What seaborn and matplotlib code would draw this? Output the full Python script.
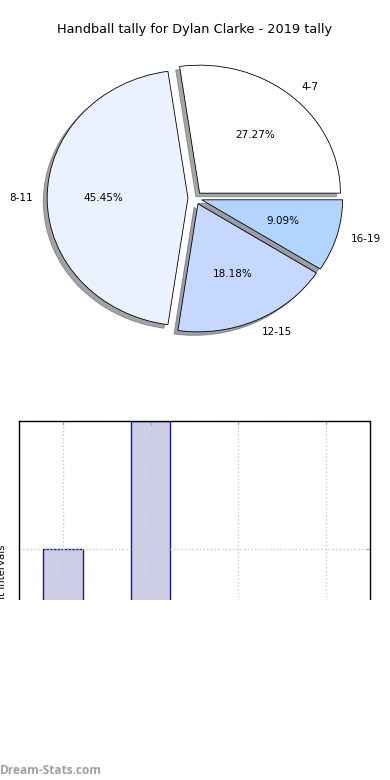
import numpy as np
import matplotlib
matplotlib.use("Agg")
import matplotlib.pyplot as plt
import pandas as pd
import seaborn as sns
from matplotlib.patches import Rectangle

title = "Handball tally for Dylan Clarke - 2019 tally"
pie_labels = ["4-7", "8-11", "12-15", "16-19"]
pie_counts = [3, 5, 2, 1]
pie_colors = ["#ffffff", "#eaf2ff", "#c6d8ff", "#b3d4ff"]

bar_cats = ["4-7", "8-11", "12-15", "16-19"]
bar_counts = [1, 2, 0, 0]
ylabel = "Matches in point intervals"

sns.set_style("white")
plt.rcParams['font.family'] = ['DejaVu Sans']
plt.rcParams['text.color'] = 'black'

W, H = 390, 780
fig = plt.figure(figsize=(W / 100, H / 100), dpi=100)

def box(x0, y0, x1, y1):
    return [x0 / W, 1 - y1 / H, (x1 - x0) / W, (y1 - y0) / H]

# pie
ax1 = fig.add_axes(box(19, 38, 371, 358))
ax1.pie(pie_counts, labels=pie_labels, colors=pie_colors, autopct="%.2f%%",
        explode=[0.05] * 4, shadow=True, startangle=0,
        wedgeprops={"edgecolor": "black", "linewidth": 0.6},
        textprops={"fontsize": 7.5, "color": "black"})
ax1.set_aspect("auto")
ax1.set_xlim(-1.25, 1.25)
ax1.set_ylim(-1.25, 1.25)
fig.text(0.5, 1 - 30 / H, title, ha="center", va="center", fontsize=9.3)

# bars
ax2 = fig.add_axes(box(19, 421, 370, 741))
df = pd.DataFrame({"cat": bar_cats, "n": bar_counts})
sns.barplot(data=df, x="cat", y="n", ax=ax2, width=0.45, color="#ccccee",
            edgecolor="#1a1a99", linewidth=1, saturation=1)
for p in ax2.patches:
    p.set_facecolor("#cdcde6")
    p.set_zorder(1)
ax2.set_xlim(-0.5, 3.5)
ax2.set_ylim(-0.5, 2)
ax2.set_yticks([0, 1, 2])
ax2.grid(True, linestyle=":", color="#c8c8c8", linewidth=1)
ax2.set_axisbelow(False)
for ln in ax2.get_xgridlines() + ax2.get_ygridlines():
    ln.set_zorder(2)
ax2.tick_params(direction="in", length=3, color="#aaaaaa", top=True, right=True,
                labelleft=False, labelbottom=False)
ax2.set_xlabel("")
ax2.set_ylabel("")
for s in ax2.spines.values():
    s.set_color("black")
    s.set_linewidth(1)
    s.set_zorder(3)
fig.text(2.5 / W, 1 - 544 / H, ylabel, rotation=90, ha="center", va="top", fontsize=7.3)

# blank lower part, like the cropped original
fig.patches.append(Rectangle((0, 0), 1, 180 / H, transform=fig.transFigure,
                             facecolor="white", edgecolor="none", zorder=10))
fig.text(0, 1 - 770 / H, "Dream-Stats.com", ha="left", va="center", fontsize=8.6,
         color="#a0a0a0", fontweight="bold", family=["Open Sans", "DejaVu Sans"], zorder=11)

fig.savefig("out.png", dpi=100)
